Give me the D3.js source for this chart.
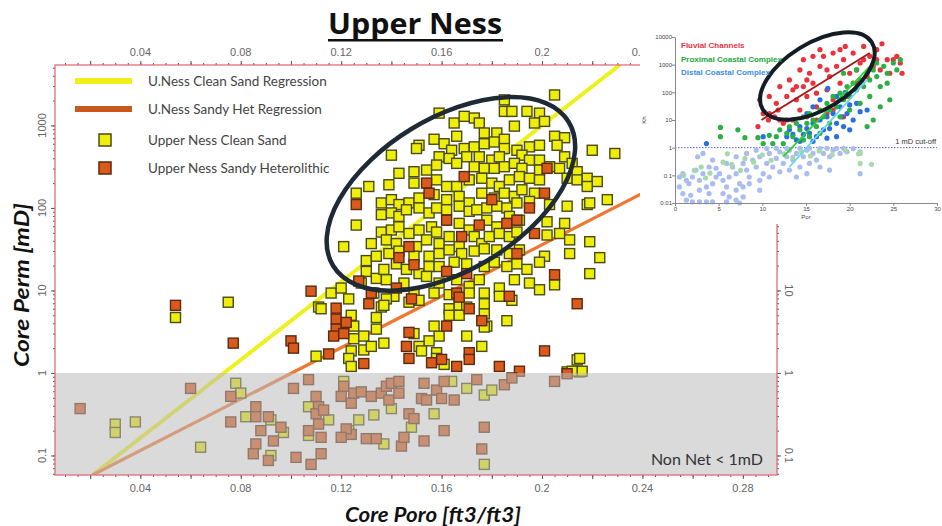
<!DOCTYPE html>
<html>
<head>
<meta charset="utf-8">
<script src="https://cdn.jsdelivr.net/npm/d3@7"></script>
<style>
body { margin: 0; background: #fff; }
svg { display: block; }
</style>
</head>
<body>
<script>
var w = 942;
var h = 526;

// Upper Ness core data: [core poro (ft3/ft3), core perm (mD)]
var cleanSand = [
  [0.205,2340],[0.185,2040],[0.159,1410],[0.185,1480],[0.188,1480],[0.194,1480],[0.199,1410],[0.165,1070],[0.173,1230],[0.169,1290],
  [0.175,1070],[0.177,810],[0.182,810],[0.189,980],[0.197,1070],[0.201,1120],[0.205,740],[0.209,710],[0.206,575],[0.166,740],
  [0.157,680],[0.161,600],[0.151,575],[0.150,525],[0.164,500],[0.169,525],[0.173,550],[0.177,600],[0.181,630],[0.185,680],
  [0.185,525],[0.190,500],[0.195,550],[0.199,575],[0.220,500],[0.229,457],[0.140,436],[0.159,417],[0.163,398],[0.170,417],
  [0.175,417],[0.180,380],[0.183,417],[0.192,436],[0.195,380],[0.199,380],[0.209,417],[0.212,347],[0.214,275],[0.143,263],
  [0.149,275],[0.154,288],[0.158,331],[0.166,347],[0.173,316],[0.177,302],[0.181,302],[0.185,316],[0.189,347],[0.192,302],
  [0.199,288],[0.203,316],[0.207,302],[0.210,229],[0.214,219],[0.218,229],[0.222,209],[0.218,182],[0.131,182],[0.139,191],
  [0.149,200],[0.158,219],[0.162,182],[0.166,182],[0.171,219],[0.176,229],[0.180,200],[0.183,182],[0.187,219],[0.191,240],
  [0.195,229],[0.199,219],[0.126,151],[0.136,115],[0.140,126],[0.143,110],[0.147,115],[0.151,132],[0.157,145],[0.162,126],
  [0.167,138],[0.171,115],[0.176,151],[0.181,132],[0.185,151],[0.189,138],[0.192,166],[0.197,151],[0.203,110],[0.210,105],
  [0.218,110],[0.226,126],[0.136,83],[0.126,62],[0.140,87],[0.143,79],[0.146,95],[0.151,100],[0.155,87],[0.158,100],
  [0.162,95],[0.167,105],[0.171,91],[0.174,95],[0.178,100],[0.182,105],[0.186,100],[0.190,115],[0.195,120],[0.136,51],
  [0.140,54],[0.143,59],[0.147,49],[0.151,54],[0.156,59],[0.158,51],[0.167,65],[0.171,54],[0.178,71],[0.182,59],
  [0.187,79],[0.191,71],[0.202,68],[0.209,65],[0.219,115],[0.121,34],[0.132,37],[0.138,41],[0.142,37],[0.150,34],
  [0.154,41],[0.159,37],[0.163,45],[0.167,34],[0.173,45],[0.176,37],[0.179,45],[0.183,49],[0.187,45],[0.190,51],
  [0.202,47],[0.207,49],[0.211,41],[0.130,23],[0.134,26],[0.139,28],[0.143,30],[0.149,26],[0.155,26],[0.159,28],
  [0.163,31],[0.168,28],[0.173,30],[0.177,32],[0.182,31],[0.187,28],[0.191,31],[0.201,26],[0.211,28],[0.130,17],
  [0.134,14],[0.137,18],[0.142,21],[0.146,18],[0.151,16],[0.155,19.5],[0.159,19.5],[0.165,22],[0.170,21],[0.177,19.5],
  [0.181,22],[0.186,19.5],[0.190,21],[0.194,18],[0.199,22],[0.128,12.3],[0.138,13.5],[0.145,12.3],[0.154,14.8],[0.159,12.3],
  [0.166,13.5],[0.171,11.2],[0.175,13.5],[0.183,10.7],[0.189,13.5],[0.195,12.3],[0.199,10.2],[0.205,11.7],[0.219,16],[0.116,9.3],
  [0.120,10.7],[0.133,9.3],[0.141,8.5],[0.149,9.3],[0.157,9.3],[0.163,8.9],[0.171,9.3],[0.177,9.3],[0.183,8.5],[0.223,25],
  [0.219,39],[0.214,1.44],[0.210,1.03],[0.215,1.03],
  [0.054,4.7],[0.075,7.2],[0.111,6.3],[0.112,6.0],[0.110,1.6],[0.123,7.9],[0.124,5.0],[0.125,3.7],[0.125,2.6],[0.124,1.85],
  [0.123,1.5],[0.124,1.2],[0.129,1.9],[0.129,2.8],[0.134,3.4],[0.134,4.7],[0.136,6.3],[0.138,7.9],[0.137,6.6],[0.137,2.3],
  [0.132,2.1],[0.147,7.2],[0.151,7.6],[0.163,6.0],[0.159,2.8],[0.157,3.7],[0.158,1.76],[0.158,1.5],[0.161,1.27],[0.163,5.0],
  [0.167,6.6],[0.170,6.3],[0.167,5.0],[0.155,2.45],[0.151,2.1],[0.152,1.85],[0.149,3.0],[0.177,6.9],[0.177,5.2],[0.178,3.7],
  [0.176,2.1],[0.170,2.8],[0.186,4.3],[0.188,7.6],[0.215,1.5],[0.216,1.05],[0.212,1.05],[0.177,3.6],
  [0.030,0.24],[0.030,0.19],[0.038,0.255],[0.064,0.126],[0.078,0.75],[0.080,0.57],[0.082,0.295],[0.092,0.27],[0.092,0.1],[0.097,0.19],
  [0.107,0.39],[0.107,0.175],[0.115,0.27],[0.121,0.79],[0.123,0.2],[0.127,0.27],[0.133,0.31],[0.137,0.138],[0.140,0.37],[0.148,0.22],
  [0.157,0.32],[0.164,0.79],[0.170,0.65],[0.177,0.54],[0.180,0.62],[0.177,0.078]
];

var sandyHet = [
  [0.126,110],[0.154,200],[0.155,151],[0.169,240],[0.202,302],[0.201,151],[0.162,71],[0.175,62],[0.186,65],[0.190,71],
  [0.197,49],[0.195,100],[0.147,34],[0.143,25],[0.149,20.5],[0.168,45],[0.180,126],[0.162,17],[0.170,16],[0.127,13],
  [0.132,9.3],[0.142,10.7],[0.108,9.8],[0.205,15.5],[0.190,28],[0.166,9.3],[0.187,8.5],
  [0.054,6.6],[0.077,2.3],[0.100,2.45],[0.101,2.0],[0.118,6.1],[0.118,4.5],[0.118,3.4],[0.117,2.8],[0.122,4.1],
  [0.121,3.0],[0.115,1.7],[0.129,1.3],[0.131,6.9],[0.148,7.9],[0.147,3.1],[0.146,2.1],[0.147,1.5],[0.156,1.33],[0.160,1.46],
  [0.162,3.7],[0.167,8.3],[0.171,6.0],[0.171,1.76],[0.171,1.46],[0.176,4.3],[0.183,1.2],[0.191,1.05],[0.201,1.85],[0.214,6.9],
  [0.166,1.2],
  [0.016,0.37],[0.060,0.65],[0.076,0.52],[0.076,0.255],[0.086,0.39],[0.086,0.295],[0.088,0.2],[0.086,0.138],[0.085,0.105],[0.091,0.087],
  [0.093,0.15],[0.091,0.295],[0.096,0.22],[0.101,0.65],[0.102,0.095],[0.107,0.83],[0.110,0.52],[0.111,0.39],[0.110,0.32],[0.113,0.355],
  [0.111,0.24],[0.107,0.2],[0.112,0.166],[0.112,0.105],[0.108,0.078],[0.120,0.52],[0.121,0.69],[0.124,0.43],[0.125,0.57],[0.128,0.59],
  [0.132,0.52],[0.136,0.57],[0.138,0.69],[0.140,0.75],[0.143,0.79],[0.139,0.47],[0.143,0.57],[0.147,0.32],[0.149,0.28],[0.152,0.49],
  [0.153,0.75],[0.154,0.47],[0.158,0.62],[0.160,0.49],[0.161,0.79],[0.165,0.47],[0.161,0.2],[0.153,0.15],[0.144,0.13],[0.145,0.166],
  [0.134,0.16],[0.130,0.16],[0.124,0.18],[0.122,0.21],[0.120,0.166],[0.174,0.83],[0.177,0.22],[0.176,0.12],[0.185,0.72],[0.188,0.87],
  [0.205,0.79],[0.210,0.98]
];

// regression lines, end points [poro, perm]
var cleanRegression = [[0.021, 0.058], [0.231, 5400]];
var hetRegression = [[0.021, 0.058], [0.2936, 1030]];

var xDomain = [0.006, 0.2936];
var yDomain = [0.058, 5400];
var xTickLabels = [0.04, 0.08, 0.12, 0.16, 0.2, 0.24, 0.28];
var xTopTickLabels = [0.04, 0.08, 0.12, 0.16, 0.2, 0.24];
var yTickLabels = [0.1, 1, 10, 100, 1000];
var yRightTickLabels = [0.1, 1, 10];
var netCutoff = 1;

var legendItems = ["U.Ness Clean Sand Regression", "U.Ness Sandy Het Regression", "Upper Ness Clean Sand", "Upper Ness Sandy Heterolithic"];

// inset (facies comparison): [porosity %, perm mD]
var fluvial = [
  [9.7,54],[10.1,17],[9.5,5.8],[10.7,10],[11.4,13],[12.0,10],[12.4,7.6],[10.8,71],[11.6,40],[12.0,162],
  [12.8,71],[13.1,282],[13.5,123],[13.9,54],[14.3,646],[14.3,23],[14.7,162],[15.1,71],[15.4,490],[15.8,214],
  [16.2,30],[16.6,870],[16.6,3470],[17.0,2000],[17.4,123],[17.7,372],[18.1,2630],[18.1,54],[18.5,870],[18.9,214],
  [19.3,1510],[19.5,4570],[19.7,71],[20.0,490],[20.4,2630],[20.8,214],[21.2,1150],[21.6,4570],[22.0,372],[22.3,2000],
  [22.7,870],[23.1,3470],[23.7,5700],[23.5,646],[24.3,1510],[25.0,1510],[25.8,1150],[26.0,490],[25.4,2000],[24.6,490],
  [16.2,10],[15.1,13],[13.5,10],[19.3,13],[18.1,23],[17.4,17],[12.8,10],[14.7,1510],[15.8,2000],[17.4,646],
  [18.9,3470],[15.1,282],[16.2,93],[13.9,162],[11.8,23],[10.8,17],[20.8,646],[21.6,1510],[23.1,1510]
];
var proximal = [
  [5.2,5.4],[5.2,2.5],[7.2,4.4],[8.0,2.3],[9.5,2.3],[10.1,1.4],[10.8,2.8],[11.6,2.5],[12.0,4.4],[12.8,3.3],
  [13.1,5.8],[13.9,7.6],[14.3,4.4],[14.7,13],[15.1,7.6],[15.4,17],[15.8,10],[16.2,5.8],[16.6,23],[17.0,13],
  [17.4,40],[17.7,23],[18.1,71],[18.5,30],[18.9,93],[19.3,54],[19.7,162],[20.0,71],[20.4,214],[20.8,123],
  [21.2,282],[21.6,162],[22.0,490],[22.3,282],[22.7,646],[23.1,372],[23.5,162],[23.9,870],[24.3,214],[25.0,1150],
  [25.4,646],[25.8,1510],[23.5,30],[22.7,10],[22.0,5.8],[24.6,54],[22.3,71],[21.2,40],[20.0,23],[18.9,13],
  [17.7,7.6],[16.6,3.3],[15.4,2.5],[14.7,1.9],[13.5,2.5],[12.4,1.4],[11.2,1.4],[19.3,490],[20.8,646],[23.1,1150],
  [24.3,490]
];
var distal = [
  [3.6,1.4],[10.1,2.5],[12.8,2.5],[13.1,4.4],[13.5,3.0],[13.9,1.9],[14.3,5.8],[14.7,3.0],[15.1,4.9],[15.4,3.3],
  [15.8,7.6],[16.2,2.5],[16.6,10],[17.0,4.4],[17.4,13],[17.7,4.9],[18.1,17],[18.5,7.6],[18.9,30],[19.1,13],
  [19.3,5.8],[19.7,17],[20.0,35],[20.4,10],[20.8,40],[21.2,20],[17.5,140],[18.5,71],[19.5,100],[16.6,54],
  [15.8,30],[15.1,17],[14.3,1.7],[15.8,1.7],[17.4,2.2],[18.5,2.5],[20.0,4.4],[22.0,23]
];
var distalNonNet = [
  [0.5,0.087],[0.9,0.115],[1.3,0.066],[1.6,0.05],[2.0,0.087],[2.4,0.155],[2.8,0.066],[3.2,0.115],[3.6,0.038],[3.9,0.022],
  [4.3,0.05],[4.7,0.087],[0.5,0.038],[0.9,0.022],[1.3,0.0126],[2.0,0.011],[2.8,0.011],[3.6,0.011],[1.8,0.019],[2.8,0.029],
  [3.9,0.2],[4.3,0.355],[4.7,0.18],[5.1,0.115],[5.5,0.066],[5.9,0.038],[6.2,0.087],[6.6,0.2],[7.0,0.115],[7.4,0.05],
  [7.8,0.27],[8.2,0.155],[8.5,0.087],[8.9,0.355],[9.3,0.2],[9.7,0.47],[10.1,0.115],[10.5,0.27],[10.8,0.62],[11.2,0.2],
  [11.6,0.41],[12.0,0.71],[12.4,0.27],[12.8,0.47],[13.1,0.81],[13.5,0.355],[13.9,0.62],[14.3,0.95],[14.7,0.47],[15.1,0.81],
  [15.4,0.95],[15.8,0.62],[16.2,0.355],[16.6,0.93],[17.0,0.62],[17.4,0.95],[17.7,0.47],[18.1,0.81],[18.5,0.95],[18.9,0.62],
  [19.3,0.95],[19.7,0.71],[20.4,0.93],[21.2,0.71],[2.6,0.47],[3.2,0.62],[5.9,0.27],[7.0,0.47],[8.2,0.62],[9.3,0.81],
  [10.5,0.93],[11.6,0.95],[12.8,0.93],[5.5,0.022],[6.2,0.0166],[7.0,0.029],[7.8,0.038],[8.5,0.05],[9.7,0.066],[10.8,0.087],
  [12.0,0.135],[13.1,0.155],[14.3,0.2],[15.4,0.27],[16.6,0.2],[17.7,0.155],[7.8,0.0166],[9.7,0.029],[5.9,0.011],[4.3,0.011],
  [7.4,0.01],[7.0,0.0126],[15.1,0.115],[13.9,0.087],[21.2,0.115]
];
var proximalNonNet = [
  [1.0,0.1],[2.2,0.15],[3.0,0.2],[4.0,0.12],[5.5,0.3],[6.5,0.25],[8.0,0.4],[9.0,0.3],[10.0,0.55],[11.0,0.35],
  [12.5,0.6],[13.5,0.45],[14.5,0.7],[15.5,0.5],[16.5,0.75],[18.0,0.55],[19.5,0.8],[21.0,0.6],[22.5,0.25],[3.5,0.08],
  [6.0,0.6],[7.5,0.15],[21.2,0.62],[21.2,0.27]
];
var insetRegressions = [
  {color: "#a31b1b", pts: [[9.9, 10], [22.3, 2630]]},
  {color: "#2fd12f", pts: [[12.4, 0.47], [22.7, 1150]]},
  {color: "#69d6ee", pts: [[13.1, 0.2], [22.0, 280]]}
];
var insetLegend = [["Fluvial Channels", "#e8333d"], ["Proximal Coastal Complex", "#22a83a"], ["Distal Coastal Complex", "#3b8ee6"]];
var insetXTicks = [0, 5, 10, 15, 20, 25, 30];
var insetYTicks = [0.01, 0.1, 1, 10, 100, 1000, 10000];

var svg = d3.select("body").append("svg")
    .attr("width", w)
    .attr("height", h);

var mLeft = 55, mRight = 777, mTop = 65, mBottom = 475;

var x = d3.scaleLinear().domain(xDomain).range([mLeft, mRight]);
var y = d3.scaleLog().domain(yDomain).range([mBottom, mTop]);

// title
svg.append("text")
    .attr("x", 415).attr("y", 34)
    .attr("text-anchor", "middle")
    .attr("textLength", 174)
    .attr("lengthAdjust", "spacingAndGlyphs")
    .style("font-family", "Open Sans")
    .style("font-weight", 700)
    .style("font-size", "29px")
    .attr("fill", "#111")
    .text("Upper Ness");
svg.append("rect").attr("x", 328).attr("y", 39).attr("width", 175).attr("height", 2.5).attr("fill", "#111");

svg.append("clipPath").attr("id", "plotClip")
    .append("rect").attr("x", mLeft).attr("y", mTop).attr("width", mRight - mLeft).attr("height", mBottom - mTop);

var plot = svg.append("g").attr("clip-path", "url(#plotClip)");

var line = d3.line()
    .x(function (d) { return x(d[0]); })
    .y(function (d) { return y(d[1]); });

plot.append("path").datum(cleanRegression)
    .attr("d", line).attr("stroke", "#eef21c").attr("stroke-width", 4).attr("fill", "none");
plot.append("path").datum(hetRegression)
    .attr("d", line).attr("stroke", "#f07632").attr("stroke-width", 3.2).attr("fill", "none");

var sq = 10;
function squares(data, fill, stroke) {
    plot.append("g").selectAll("rect")
        .data(data)
        .enter()
        .append("rect")
        .attr("x", function (d) { return x(d[0]) - sq / 2; })
        .attr("y", function (d) { return y(d[1]) - sq / 2; })
        .attr("width", sq)
        .attr("height", sq)
        .attr("fill", fill)
        .attr("stroke", stroke)
        .attr("stroke-width", 1.4);
}
squares(cleanSand, "#eeee08", "#4a4a18");
squares(sandyHet, "#d95a1a", "#5a2a10");

// non-net shading sits on top of everything below 1 mD
plot.append("rect")
    .attr("x", mLeft).attr("y", y(netCutoff))
    .attr("width", mRight - mLeft).attr("height", mBottom - y(netCutoff))
    .attr("fill", "#bcbcbc").attr("opacity", 0.55);

plot.append("text")
    .attr("x", mRight - 14).attr("y", 465)
    .attr("text-anchor", "end")
    .style("font-family", "Lato")
    .style("font-size", "16px")
    .attr("fill", "#333")
    .text("Non Net < 1mD");

// highlighted cluster
plot.append("ellipse")
    .attr("transform", "translate(" + x(0.1637) + "," + y(148) + ") rotate(-31.4)")
    .attr("rx", 138).attr("ry", 76)
    .attr("fill", "none").attr("stroke", "#1e2a35").attr("stroke-width", 4.5);

// frame and ticks
var frameColor = "#e36c7c";
var tickColor = "#555";
var fmt = d3.format("~g");
var xMinor = d3.range(0.01, 0.2936, 0.005);
var xMajor = d3.range(0.02, 0.2936, 0.02);
var yMinor = [];
[-2, -1, 0, 1, 2, 3].forEach(function (e) {
    for (var k = 1; k < 10; k++) {
        var v = k * Math.pow(10, e);
        if (v >= yDomain[0] && v <= yDomain[1]) yMinor.push(v);
    }
});

function ticks(g, axis, size) {
    g.call(axis.tickSize(size).tickSizeOuter(0).tickFormat(""));
    g.select(".domain").remove();
    g.selectAll("line").attr("stroke", tickColor).attr("stroke-width", 1);
}
ticks(svg.append("g").attr("transform", "translate(0," + mBottom + ")"), d3.axisBottom(x).tickValues(xMinor), 2);
ticks(svg.append("g").attr("transform", "translate(0," + mBottom + ")"), d3.axisBottom(x).tickValues(xMajor), 4);
ticks(svg.append("g").attr("transform", "translate(0," + mTop + ")"), d3.axisTop(x).tickValues(xMinor), 2);
ticks(svg.append("g").attr("transform", "translate(0," + mTop + ")"), d3.axisTop(x).tickValues(xMajor), 4);
ticks(svg.append("g").attr("transform", "translate(" + mLeft + ",0)"), d3.axisLeft(y).tickValues(yMinor), 2);
ticks(svg.append("g").attr("transform", "translate(" + mLeft + ",0)"), d3.axisLeft(y).tickValues(yTickLabels), 4);
ticks(svg.append("g").attr("transform", "translate(" + mRight + ",0)"), d3.axisRight(y).tickValues(yMinor), 2);
ticks(svg.append("g").attr("transform", "translate(" + mRight + ",0)"), d3.axisRight(y).tickValues(yTickLabels), 4);

svg.append("rect")
    .attr("x", mLeft).attr("y", mTop).attr("width", mRight - mLeft).attr("height", mBottom - mTop)
    .attr("fill", "none").attr("stroke", frameColor).attr("stroke-width", 1.3);

var tickFont = function (sel) {
    sel.style("font-family", "Liberation Sans").style("font-size", "11px").attr("fill", "#666");
};
svg.append("g").selectAll("text").data(xTickLabels).enter().append("text")
    .attr("x", function (d) { return x(d); }).attr("y", 492)
    .attr("text-anchor", "middle").call(tickFont).text(fmt);
svg.append("g").selectAll("text").data(xTopTickLabels).enter().append("text")
    .attr("x", function (d) { return x(d); }).attr("y", 56)
    .attr("text-anchor", "middle").call(tickFont).text(fmt);
svg.append("g").selectAll("text").data(yTickLabels).enter().append("text")
    .attr("transform", function (d) { return "translate(46," + y(d) + ") rotate(-90)"; })
    .attr("text-anchor", "middle").call(tickFont).text(fmt);
svg.append("g").selectAll("text").data(yRightTickLabels).enter().append("text")
    .attr("transform", function (d) { return "translate(785," + y(d) + ") rotate(90)"; })
    .attr("text-anchor", "middle").call(tickFont).text(fmt);

// axis titles
svg.append("text")
    .attr("transform", "translate(29,285) rotate(-90)")
    .attr("text-anchor", "middle")
    .attr("textLength", 164).attr("lengthAdjust", "spacingAndGlyphs")
    .style("font-family", "Lato").style("font-style", "italic").style("font-weight", 700).style("font-size", "21px")
    .attr("fill", "#111")
    .text("Core Perm [mD]");
svg.append("text")
    .attr("x", 433).attr("y", 522)
    .attr("text-anchor", "middle")
    .attr("textLength", 176).attr("lengthAdjust", "spacingAndGlyphs")
    .style("font-family", "Lato").style("font-style", "italic").style("font-weight", 700).style("font-size", "21px")
    .attr("fill", "#111")
    .text("Core Poro [ft3/ft3]");

// legend
var legendY = [81, 109, 140, 168];
var legend = svg.append("g");
legend.append("line").attr("x1", 75).attr("x2", 132).attr("y1", legendY[0]).attr("y2", legendY[0])
    .attr("stroke", "#f0f018").attr("stroke-width", 6);
legend.append("line").attr("x1", 75).attr("x2", 132).attr("y1", legendY[1]).attr("y2", legendY[1])
    .attr("stroke", "#c8581c").attr("stroke-width", 6);
legend.append("rect").attr("x", 99).attr("y", legendY[2] - 6).attr("width", 12).attr("height", 12)
    .attr("fill", "#eeee08").attr("stroke", "#4a4a18").attr("stroke-width", 1.5);
legend.append("rect").attr("x", 99).attr("y", legendY[3] - 6).attr("width", 12).attr("height", 12)
    .attr("fill", "#d95a1a").attr("stroke", "#5a2a10").attr("stroke-width", 1.5);
legend.selectAll("text").data(legendItems).enter().append("text")
    .attr("x", 148).attr("y", function (d, i) { return legendY[i] + 5; })
    .style("font-family", "Lato").style("font-size", "13.5px")
    .attr("fill", "#444")
    .text(function (d) { return d; });

// ---------- inset ----------
var inset = svg.append("g");
inset.append("rect").attr("x", 640).attr("y", 24).attr("width", 302).attr("height", 200).attr("fill", "#fff");

var ix = d3.scaleLinear().domain([0, 30]).range([675, 937]);
var iy = d3.scaleLog().domain([0.01, 10000]).range([203, 37]);

inset.append("line").attr("x1", ix(0)).attr("x2", ix(30)).attr("y1", iy(1)).attr("y2", iy(1))
    .attr("stroke", "#5565e6").attr("stroke-width", 1).attr("stroke-dasharray", "1.5,1.5");

function dots(data, color) {
    inset.append("g").selectAll("circle")
        .data(data)
        .enter()
        .append("circle")
        .attr("cx", function (d) { return ix(d[0]); })
        .attr("cy", function (d) { return iy(d[1]); })
        .attr("r", 2.6)
        .attr("fill", color);
}
dots(distalNonNet, "#a9bdf0");
dots(proximalNonNet, "#a9d8ad");
dots(fluvial, "#e8333d");
dots(distal, "#2a6fe0");
dots(proximal, "#2bb043");

var iline = d3.line()
    .x(function (d) { return ix(d[0]); })
    .y(function (d) { return iy(d[1]); });
inset.selectAll(".reg").data(insetRegressions).enter().append("path")
    .attr("d", function (d) { return iline(d.pts); })
    .attr("stroke", function (d) { return d.color; })
    .attr("stroke-width", 1.8).attr("fill", "none");

inset.append("ellipse")
    .attr("transform", "translate(" + ix(16.3) + "," + iy(390) + ") rotate(-31.5)")
    .attr("rx", 64).attr("ry", 33)
    .attr("fill", "none").attr("stroke", "#151d24").attr("stroke-width", 4);

var ixAxis = inset.append("g").attr("transform", "translate(0," + iy(0.01) + ")")
    .call(d3.axisBottom(ix).tickValues(insetXTicks).tickSize(3).tickSizeOuter(0));
var iyAxis = inset.append("g").attr("transform", "translate(" + ix(0) + ",0)")
    .call(d3.axisLeft(iy).tickValues(insetYTicks).tickFormat(fmt).tickSize(3).tickSizeOuter(0));
[ixAxis, iyAxis].forEach(function (g) {
    g.select(".domain").attr("stroke", "#888");
    g.selectAll("line").attr("stroke", "#888");
    g.selectAll("text").style("font-family", "Liberation Sans").style("font-size", "6px").attr("fill", "#444");
});
ixAxis.selectAll("text").attr("y", 4);
iyAxis.selectAll("text").attr("x", -3);

inset.append("text").attr("x", ix(15)).attr("y", 219).attr("text-anchor", "middle")
    .style("font-family", "Liberation Sans").style("font-size", "6px").attr("fill", "#444").text("Por");
inset.append("text").attr("transform", "translate(646,120) rotate(-90)").attr("text-anchor", "middle")
    .style("font-family", "Liberation Sans").style("font-size", "6px").attr("fill", "#444").text("Kh");

inset.append("text").attr("x", ix(30) - 1).attr("y", iy(1) - 4).attr("text-anchor", "end")
    .style("font-family", "Liberation Sans").style("font-size", "7.5px").attr("fill", "#333").text("1 mD cut-off");

inset.selectAll(".leg").data(insetLegend).enter().append("text")
    .attr("x", 681).attr("y", function (d, i) { return 48 + i * 13.5; })
    .style("font-family", "Liberation Sans").style("font-size", "8px").style("font-weight", 700)
    .attr("fill", function (d) { return d[1]; })
    .text(function (d) { return d[0]; });
</script>
</body>
</html>
